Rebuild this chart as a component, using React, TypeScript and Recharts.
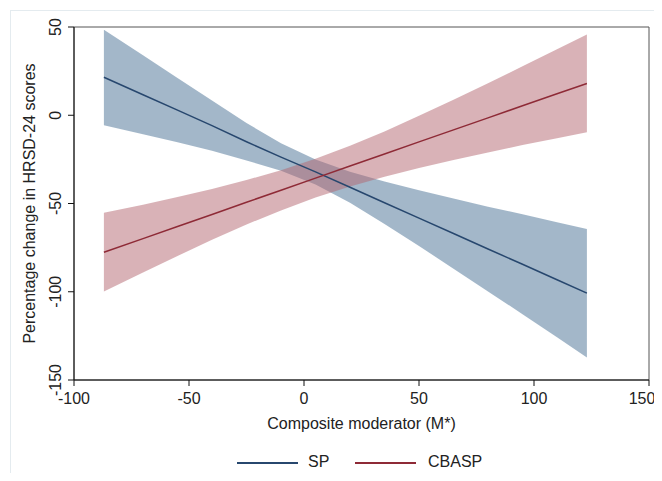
import React from 'react';
import {
  ComposedChart,
  Area,
  Line,
  XAxis,
  YAxis,
  ReferenceArea,
  Label,
} from 'recharts';

// moderator values where the fitted lines / bands were read
const moderator = [-87, -70, -55, -40, -25, -10, 5, 20, 35, 50, 65, 80, 95, 110, 123];

// SP: fitted line and 95% band
const spFit = [21.5, 11.6, 2.9, -5.9, -15.0, -23.7, -32.1, -40.8, -49.6, -58.3, -67.0, -75.8, -84.4, -93.2, -100.8];
const spLow = [-5.7, -10.8, -15.3, -20.1, -25.6, -31.5, -39.2, -49.6, -61.6, -74.1, -86.9, -99.8, -112.7, -125.8, -137.2];
const spHigh = [48.4, 34.0, 21.1, 8.3, -4.4, -15.9, -25.0, -32.0, -37.6, -42.5, -47.1, -51.8, -56.1, -60.6, -64.4];

// CBASP: fitted line and 95% band
const cbFit = [-77.6, -69.9, -63.0, -56.2, -49.3, -42.5, -35.6, -28.8, -22.0, -15.1, -8.3, -1.5, 5.4, 12.2, 18.0];
const cbLow = [-99.9, -89.1, -79.7, -70.6, -61.9, -53.9, -46.6, -40.3, -34.8, -29.9, -25.4, -21.1, -16.9, -13.0, -9.7];
const cbHigh = [-55.3, -50.7, -46.3, -41.8, -36.7, -31.1, -24.6, -17.3, -9.2, -0.3, 8.8, 18.1, 27.7, 37.4, 45.7];

const xTicks = [-100, -50, 0, 50, 100, 150];
const yTicks = [-150, -100, -50, 0, 50];

const data = moderator.map((x, i) => ({
  x,
  sp: spFit[i],
  spBand: [spLow[i], spHigh[i]],
  cb: cbFit[i],
  cbBand: [cbLow[i], cbHigh[i]],
}));

const FONT = '"Liberation Sans", Arial, sans-serif';
const FS = 16;
const SP_LINE = '#27476e';
const CB_LINE = '#8e2a36';

const YTick = (props: any) => {
  const { x, y, payload } = props;
  const bx = x - 7;
  return (
    <text
      x={bx}
      y={y}
      transform={`rotate(-90, ${bx}, ${y})`}
      textAnchor='middle'
      fontSize={FS}
      fill='#222'
      fontFamily={FONT}
    >
      {payload.value}
    </text>
  );
};

const XTick = (props: any) => {
  const { x, y, payload } = props;
  return (
    <text x={x} y={y} dy='0.71em' textAnchor='middle' fontSize={FS} fill='#222' fontFamily={FONT}>
      {payload.value}
    </text>
  );
};

export default function App() {
  return (
    <div style={{ position: 'relative', width: 646, height: 465, fontFamily: FONT }}>
      <div
        style={{
          position: 'absolute',
          left: 2,
          top: 2,
          width: 644,
          height: 463,
          borderTop: '1px solid #e4ebef',
          borderLeft: '1px solid #e4ebef',
        }}
      />
      <ComposedChart
        width={646}
        height={465}
        data={data}
        margin={{ top: 19, right: 5, left: 0, bottom: 33 }}
      >
        <XAxis
          type='number'
          dataKey='x'
          domain={[-100, 150]}
          ticks={xTicks}
          tick={<XTick />}
          tickSize={6}
          tickMargin={7}
          height={60}
          stroke='#111'
          allowDataOverflow
        >
          <Label
            content={({ viewBox }: any) => (
              <text
                x={viewBox.x + viewBox.width / 2}
                y={viewBox.y + 49}
                textAnchor='middle'
                fontSize={FS}
                fill='#222'
                fontFamily={FONT}
              >
                Composite moderator (M*)
              </text>
            )}
          />
        </XAxis>
        <YAxis
          type='number'
          domain={[-150, 50]}
          ticks={yTicks}
          tick={<YTick />}
          tickSize={6}
          tickMargin={0}
          width={66}
          stroke='#111'
          allowDataOverflow
        >
          <Label
            content={({ viewBox }: any) => {
              const cx = 27;
              const cy = viewBox.y + viewBox.height / 2;
              return (
                <text
                  x={cx}
                  y={cy}
                  transform={`rotate(-90, ${cx}, ${cy})`}
                  textAnchor='middle'
                  fontSize={FS}
                  fill='#222'
                  fontFamily={FONT}
                >
                  Percentage change in HRSD-24 scores
                </text>
              );
            }}
          />
        </YAxis>
        <ReferenceArea x1={-100} x2={150} y1={-150} y2={50} fill='none' stroke='#555' strokeWidth={1} />
        <Area
          type='linear'
          dataKey='spBand'
          stroke='none'
          fill='#6b8ba8'
          fillOpacity={0.62}
          isAnimationActive={false}
          activeDot={false}
        />
        <Area
          type='linear'
          dataKey='cbBand'
          stroke='none'
          fill='#b3666f'
          fillOpacity={0.5}
          isAnimationActive={false}
          activeDot={false}
        />
        <Line type='linear' dataKey='sp' stroke={SP_LINE} strokeWidth={1.5} dot={false} activeDot={false} isAnimationActive={false} />
        <Line type='linear' dataKey='cb' stroke={CB_LINE} strokeWidth={1.5} dot={false} activeDot={false} isAnimationActive={false} />
      </ComposedChart>
      <div style={{ position: 'absolute', left: 229, top: 454, width: 61, height: 1.5, background: SP_LINE }} />
      <div style={{ position: 'absolute', left: 300, top: 445, fontSize: FS, color: '#222', lineHeight: '18px' }}>SP</div>
      <div style={{ position: 'absolute', left: 347, top: 454, width: 61, height: 1.5, background: CB_LINE }} />
      <div style={{ position: 'absolute', left: 420, top: 445, fontSize: FS, color: '#222', lineHeight: '18px' }}>CBASP</div>
    </div>
  );
}
